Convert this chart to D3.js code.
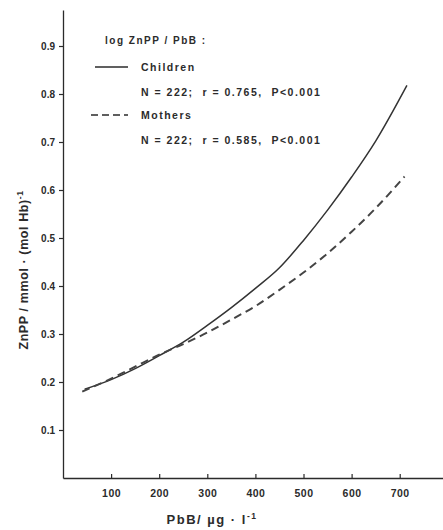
<!DOCTYPE html>
<html>
<head>
<meta charset="utf-8">
<script src="https://cdn.jsdelivr.net/npm/d3@7"></script>
<style>
    body { margin: 0; background: #fff; }
    svg text { font-family: "Liberation Sans", Arial, sans-serif; fill: #2b2b2b; }
</style>
</head>
<body>
<svg id="chart" width="443" height="530"></svg>
<script>
'use strict';

// PbB (µg/l) vs ZnPP
var childrenPbB = [45, 100, 150, 200, 250, 300, 350, 400, 450, 500, 550, 600, 650, 715]
var childrenZn = [0.185, 0.205, 0.228, 0.255, 0.283, 0.318, 0.355, 0.395, 0.438, 0.495, 0.558, 0.627, 0.702, 0.818]
var mothersPbB = [40, 100, 150, 200, 250, 300, 350, 400, 450, 500, 550, 600, 650, 710]
var mothersZn = [0.18, 0.207, 0.232, 0.257, 0.279, 0.303, 0.33, 0.358, 0.392, 0.428, 0.468, 0.513, 0.562, 0.628]
var xTicks = [100, 200, 300, 400, 500, 600, 700]
var yTicks = [0.1, 0.2, 0.3, 0.4, 0.5, 0.6, 0.7, 0.8, 0.9]
var legendTitle = 'log ZnPP / PbB :'
var seriesNames = ['Children', 'Mothers']
var seriesStats = ['N = 222;  r = 0.765,  P<0.001', 'N = 222;  r = 0.585,  P<0.001']

var svg = d3.select('#chart')
var ink = '#2b2b2b'

var x = d3.scaleLinear().domain([0, 790]).range([63, 443])
var y = d3.scaleLinear().domain([0, 0.975]).range([478, 10])

// axes
var xAxis = d3.axisBottom(x).tickValues(xTicks).tickSize(-4).tickPadding(12).tickSizeOuter(0)
var gx = svg.append('g').attr('transform', 'translate(0,' + y(0) + ')').call(xAxis)
gx.select('.domain').attr('stroke', ink).attr('stroke-width', 1.3)
gx.selectAll('.tick line').attr('stroke', ink).attr('stroke-width', 1.2)
gx.selectAll('.tick text').attr('font-size', 10.5).attr('font-weight', 'bold')
    .attr('fill', ink).attr('letter-spacing', 0.5)

var yAxis = d3.axisLeft(y).tickValues(yTicks).tickSize(4).tickPadding(4).tickSizeOuter(0)
    .tickFormat(d3.format('.1f'))
var gy = svg.append('g').attr('transform', 'translate(' + x(0) + ',0)').call(yAxis)
gy.select('.domain').attr('stroke', ink).attr('stroke-width', 1.3)
gy.selectAll('.tick line').attr('stroke', ink).attr('stroke-width', 1.2)
gy.selectAll('.tick text').attr('font-size', 10).attr('font-weight', 'bold').attr('fill', ink)

// curves
var line = d3.line()
    .x(function(d) { return x(d[0]) })
    .y(function(d) { return y(d[1]) })
    .curve(d3.curveMonotoneX)

svg.append('path')
    .datum(d3.zip(childrenPbB, childrenZn))
    .attr('d', line)
    .attr('fill', 'none')
    .attr('stroke', '#333')
    .attr('stroke-width', 1.5)

svg.append('path')
    .datum(d3.zip(mothersPbB, mothersZn))
    .attr('d', line)
    .attr('fill', 'none')
    .attr('stroke', '#444')
    .attr('stroke-width', 2)
    .attr('stroke-dasharray', '8,5')

// legend
var lg = svg.append('g').attr('font-weight', 'bold').attr('letter-spacing', 1.5)
lg.append('text').attr('x', 105).attr('y', 44).attr('font-size', 10)
    .style('white-space', 'pre').text(legendTitle)

var rows = [68, 116]
rows.forEach(function(ry, i) {
    lg.append('line')
        .attr('x1', i == 0 ? 95 : 91).attr('x2', 128)
        .attr('y1', ry - 1).attr('y2', ry - 1)
        .attr('stroke', ink).attr('stroke-width', 1.5)
        .attr('stroke-dasharray', i == 0 ? null : '7,4')
    lg.append('text').attr('x', 141).attr('y', ry + 3).attr('font-size', 10.5)
        .text(seriesNames[i])
    lg.append('text').attr('x', 141).attr('y', ry + 28).attr('font-size', 10.5)
        .style('white-space', 'pre').text(seriesStats[i])
})

// axis titles
var xt = svg.append('text').attr('x', 212).attr('y', 524)
    .attr('text-anchor', 'middle').attr('font-size', 13).attr('font-weight', 'bold')
    .attr('letter-spacing', 1.5)
xt.append('tspan').text('PbB/ µg · l')
xt.append('tspan').attr('dy', -5).attr('font-size', 8.5).text('-1')

var yt = svg.append('text').attr('transform', 'translate(28,270) rotate(-90)')
    .attr('text-anchor', 'middle').attr('font-size', 12.5).attr('font-weight', 'bold')
    .attr('letter-spacing', 0.6)
yt.append('tspan').text('ZnPP / mmol · (mol Hb)')
yt.append('tspan').attr('dy', -5).attr('font-size', 8.5).text('-1')
</script>
</body>
</html>
